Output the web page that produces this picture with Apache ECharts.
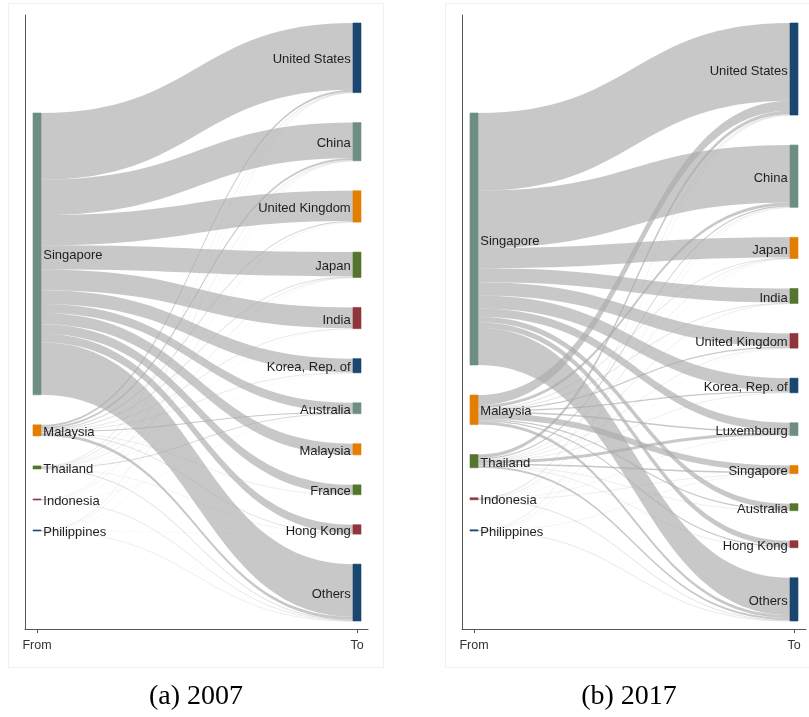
<!DOCTYPE html>
<html>
<head>
<meta charset="utf-8">
<script src="https://cdn.jsdelivr.net/npm/echarts@6/dist/echarts.min.js"></script>
<style>
html, body { margin: 0; padding: 0; background: #fff; }
#main { width: 809px; height: 717px; }
</style>
</head>
<body>
<div id="main"></div>
<script>
/**
 * data (shares of total)
 */
var sources = ['Singapore', 'Malaysia', 'Thailand', 'Indonesia', 'Philippines'];

var targets2007 = ['United States', 'China', 'United Kingdom', 'Japan', 'India', 'Korea, Rep. of',
    'Australia', 'Malaysia', 'France', 'Hong Kong', 'Others'];
// rows follow sources, columns follow targets2007
var singapore2007 = [66, 35, 30, 24, 20.5, 13.5, 9, 11, 9.5, 8.5, 52];
var malaysia2007 = [2, 2, 0.8, 0.6, 0.4, 0.4, 1, 0, 0.3, 0.5, 3];
var thailand2007 = [0.4, 0.4, 0.2, 0.3, 0.1, 0.1, 0.7, 0, 0, 0.2, 0.6];
var indonesia2007 = [0.2, 0.2, 0, 0.1, 0, 0, 0.1, 0, 0, 0, 0.4];
var philippines2007 = [0.3, 0.2, 0, 0.1, 0, 0, 0, 0, 0, 0.1, 0.3];

var targets2017 = ['United States', 'China', 'Japan', 'India', 'United Kingdom', 'Korea, Rep. of',
    'Luxembourg', 'Singapore', 'Australia', 'Hong Kong', 'Others'];
var singapore2017 = [77, 57, 20, 14, 13, 13, 8, 0, 5.5, 5.5, 37];
var malaysia2017 = [10, 3, 0.5, 0.5, 1.2, 1.2, 1.5, 6, 1.2, 1.2, 3];
var thailand2017 = [3.5, 1.3, 0.3, 0.3, 0.3, 0.3, 3, 1.5, 0.3, 0.3, 2];
var indonesia2017 = [0.5, 0.3, 0.1, 0, 0.1, 0, 0.2, 0.3, 0, 0, 0.5];
var philippines2017 = [0.3, 0.2, 0.1, 0, 0, 0, 0, 0.2, 0, 0, 0.4];

var axisLabels = ['From', 'To'];
var captions = ['(a) 2007', '(b) 2017'];

// Stata s2color order used by the nodes
var palette = ['#1a476f', '#6e8e84', '#e37e00', '#55752f', '#90353b'];

var TOP = 23, BOTTOM = 96, GAP = 30, NODE_W = 8;
var H = 717 - TOP - BOTTOM;
var LINK_OPACITY = 0.65;

var labelFont = {
    color: '#1e1e1e',
    fontSize: 13,
    fontFamily: '"Liberation Sans", Arial, sans-serif'
};

/**
 * build one sankey panel
 */
function buildSankey(targets, flows, left, right) {
    var nodes = [];
    var links = [];
    var total = 0;
    flows.forEach(function (row) {
        row.forEach(function (v) { total += v; });
    });
    // empty node on top of the left column so the sources sit in the middle
    var ky = (H - (targets.length - 1) * GAP) / total;
    var srcSpan = total * ky + (sources.length - 1) * GAP;
    var pad = (H - srcSpan) / 2 - GAP;
    nodes.push({
        id: 'pad', name: '', value: pad / ky, depth: 0,
        itemStyle: { color: 'rgba(0,0,0,0)', borderWidth: 0 },
        label: { show: false }
    });
    sources.forEach(function (name, i) {
        var c = palette[(i + 1) % palette.length];
        nodes.push({
            id: 'src_' + name, name: name, depth: 0,
            itemStyle: { color: c, borderColor: c, borderWidth: 0.6 },
            label: { position: 'right' }
        });
    });
    targets.forEach(function (name, j) {
        var c = palette[j % palette.length];
        nodes.push({
            id: 'dst_' + name, name: name, depth: 1,
            itemStyle: { color: c, borderColor: c, borderWidth: 0.6 },
            label: { position: 'left' }
        });
    });
    flows.forEach(function (row, i) {
        row.forEach(function (v, j) {
            if (v > 0) {
                // echarts draws links at least 1px wide, so fade the hairlines instead
                var px = v * ky;
                links.push({
                    source: 'src_' + sources[i],
                    target: 'dst_' + targets[j],
                    value: v,
                    lineStyle: { opacity: LINK_OPACITY * Math.min(1, px) }
                });
            }
        });
    });
    return {
        type: 'sankey',
        left: left,
        right: right,
        top: TOP,
        bottom: BOTTOM,
        nodeWidth: NODE_W,
        nodeGap: GAP,
        nodeAlign: 'left',
        layoutIterations: 0,
        draggable: false,
        silent: true,
        emphasis: { disabled: true },
        label: Object.assign({
            show: true,
            distance: 2,
            offset: [0, 2],
            formatter: function (p) { return p.data.name; }
        }, labelFont),
        lineStyle: { color: '#aaaaaa', opacity: LINK_OPACITY, curveness: 0.5 },
        data: nodes,
        links: links
    };
}

function frameAxis(gridIndex, min, max) {
    return {
        type: 'value',
        gridIndex: gridIndex,
        min: min,
        max: max,
        splitLine: { show: false },
        axisLine: { show: true, onZero: false, lineStyle: { color: '#555', width: 1 } },
        axisTick: { show: true, customValues: [0, 1], length: 4, lineStyle: { color: '#555' } },
        axisLabel: {
            show: true,
            customValues: [0, 1],
            margin: 10,
            color: '#333',
            fontSize: 12.5,
            fontFamily: '"Liberation Sans", Arial, sans-serif',
            formatter: function (v) { return v < 0.5 ? axisLabels[0] : axisLabels[1]; }
        }
    };
}

function sideAxis(gridIndex) {
    return {
        type: 'value',
        gridIndex: gridIndex,
        min: 0,
        max: 1,
        splitLine: { show: false },
        axisLine: { show: true, onZero: false, lineStyle: { color: '#555', width: 1 } },
        axisTick: { show: false },
        axisLabel: { show: false }
    };
}

var chart = echarts.init(document.getElementById('main'), null, { renderer: 'canvas' });

var option = {
    animation: false,
    backgroundColor: '#fff',
    grid: [
        { left: 25, top: 15, width: 343, bottom: 88 },
        { left: 462, top: 15, width: 344, bottom: 88 }
    ],
    xAxis: [
        frameAxis(0, -12 / 320, 1 + 11 / 320),
        frameAxis(1, -12 / 320, 1 + 12 / 320)
    ],
    yAxis: [sideAxis(0), sideAxis(1)],
    graphic: [
        { type: 'rect', silent: true, shape: { x: 8.5, y: 3.5, width: 375, height: 664 },
          style: { fill: 'none', stroke: '#f0f0f0', lineWidth: 1 } },
        { type: 'rect', silent: true, shape: { x: 445.5, y: 3.5, width: 370, height: 664 },
          style: { fill: 'none', stroke: '#f0f0f0', lineWidth: 1 } },
        { type: 'text', silent: true, x: 196, y: 697,
          style: { text: captions[0], fill: '#000', font: '28px "Liberation Serif", "Times New Roman", serif',
                   textAlign: 'center', textVerticalAlign: 'middle' } },
        { type: 'text', silent: true, x: 629, y: 697,
          style: { text: captions[1], fill: '#000', font: '28px "Liberation Serif", "Times New Roman", serif',
                   textAlign: 'center', textVerticalAlign: 'middle' } }
    ],
    series: [
        buildSankey(targets2007,
            [singapore2007, malaysia2007, thailand2007, indonesia2007, philippines2007], 33, 448),
        buildSankey(targets2017,
            [singapore2017, malaysia2017, thailand2017, indonesia2017, philippines2017], 470, 11)
    ]
};

chart.setOption(option);

window.addEventListener('resize', function () {
    chart.resize();
});
</script>
</body>
</html>
